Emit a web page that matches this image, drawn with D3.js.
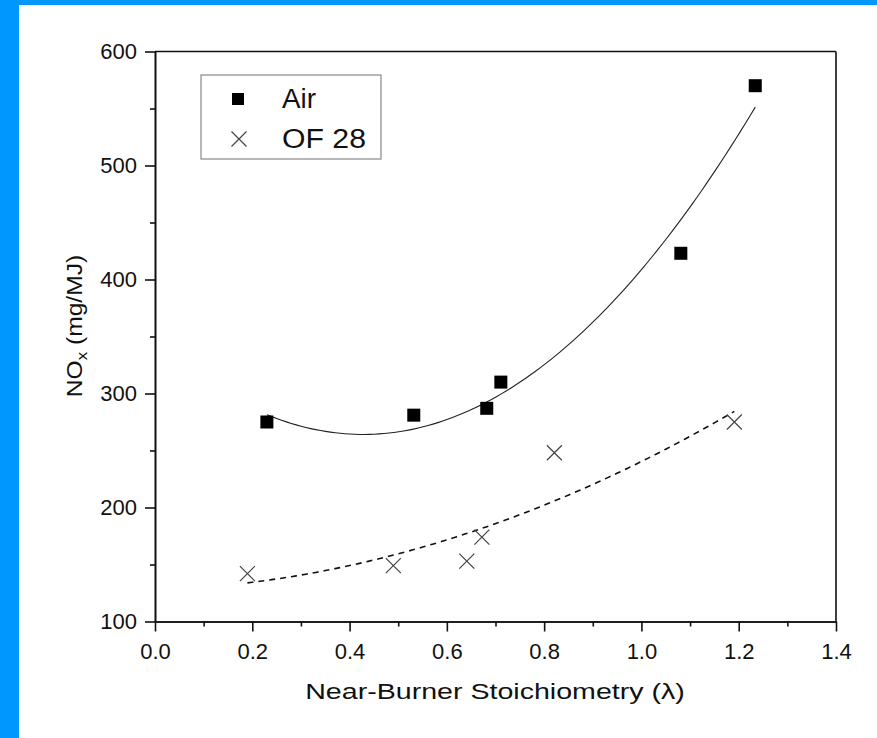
<!DOCTYPE html>
<html>
<head>
<meta charset="utf-8">
<script src="https://cdn.jsdelivr.net/npm/d3@7"></script>
<style>
  html, body { margin: 0; padding: 0; background: #0097ff; }
  svg { display: block; }
  text { font-family: Arial, "Liberation Sans", sans-serif; fill: #111; }
</style>
</head>
<body>
<script>
// NOx emissions versus near-burner stoichiometry, air vs. oxy-fuel (OF 28)
const airLambda = [0.23, 0.532, 0.682, 0.711, 1.081, 1.234];
const airNOx    = [275, 281, 287, 310, 423, 570];
const ofLambda  = [0.19, 0.49, 0.641, 0.672, 0.821, 1.191];
const ofNOx     = [142, 149, 153, 174, 248, 275];

const xTicks = [0.0, 0.2, 0.4, 0.6, 0.8, 1.0, 1.2, 1.4];
const xMinor = [0.1, 0.3, 0.5, 0.7, 0.9, 1.1, 1.3];
const yTicks = [100, 200, 300, 400, 500, 600];
const yMinor = [150, 250, 350, 450, 550];

const seriesNames = ["Air", "OF 28"];

const W = 877, H = 738;
const svg = d3.select("body").append("svg").attr("width", W).attr("height", H);

// white panel inside the blue frame
svg.append("rect").attr("x", 19).attr("y", 5).attr("width", W - 19).attr("height", H - 5).attr("fill", "#fff");

const x = d3.scaleLinear().domain([0, 1.4]).range([155, 836]);
const y = d3.scaleLinear().domain([100, 600]).range([621.5, 51.5]);

// least-squares quadratic through a series
function quadFit(xs, ys) {
  let n = xs.length, s = [0, 0, 0, 0, 0], t = [0, 0, 0];
  for (let i = 0; i < n; i++) {
    let p = 1;
    for (let k = 0; k < 5; k++) { s[k] += p; if (k < 3) t[k] += p * ys[i]; p *= xs[i]; }
  }
  const A = [[s[0], s[1], s[2], t[0]], [s[1], s[2], s[3], t[1]], [s[2], s[3], s[4], t[2]]];
  for (let c = 0; c < 3; c++) {
    for (let r = c + 1; r < 3; r++) {
      const f = A[r][c] / A[c][c];
      for (let k = c; k < 4; k++) A[r][k] -= f * A[c][k];
    }
  }
  const b = [0, 0, 0];
  for (let r = 2; r >= 0; r--) {
    let v = A[r][3];
    for (let k = r + 1; k < 3; k++) v -= A[r][k] * b[k];
    b[r] = v / A[r][r];
  }
  return v => b[0] + b[1] * v + b[2] * v * v;
}

function curvePoints(xs, ys) {
  const f = quadFit(xs, ys);
  const lo = d3.min(xs), hi = d3.max(xs);
  return d3.range(0, 101).map(i => { const v = lo + (hi - lo) * i / 100; return [v, f(v)]; });
}

const line = d3.line().x(d => x(d[0])).y(d => y(d[1]));

// fit curves
svg.append("path").attr("d", line(curvePoints(airLambda, airNOx)))
  .attr("fill", "none").attr("stroke", "#222").attr("stroke-width", 1.1);
svg.append("path").attr("d", line(curvePoints(ofLambda, ofNOx)))
  .attr("fill", "none").attr("stroke", "#111").attr("stroke-width", 1.6)
  .attr("stroke-dasharray", "6,5");

// frame: top and right
svg.append("line").attr("x1", x(0)).attr("x2", x(1.4)).attr("y1", y(600)).attr("y2", y(600))
  .attr("stroke", "#111").attr("stroke-width", 1.6);
svg.append("line").attr("x1", x(1.4)).attr("x2", x(1.4)).attr("y1", y(100)).attr("y2", y(600))
  .attr("stroke", "#111").attr("stroke-width", 1.6);

// axes
const xAxis = svg.append("g").attr("transform", `translate(0,${y(100)})`)
  .call(d3.axisBottom(x).tickValues(xTicks).tickFormat(d3.format(".1f")).tickSize(10).tickPadding(12).tickSizeOuter(0));
const xAxisMinor = svg.append("g").attr("transform", `translate(0,${y(100)})`)
  .call(d3.axisBottom(x).tickValues(xMinor).tickFormat("").tickSize(5).tickSizeOuter(0));
const yAxis = svg.append("g").attr("transform", `translate(${x(0)},0)`)
  .call(d3.axisLeft(y).tickValues(yTicks).tickFormat(d3.format("d")).tickSize(10).tickPadding(8).tickSizeOuter(0));
const yAxisMinor = svg.append("g").attr("transform", `translate(${x(0)},0)`)
  .call(d3.axisLeft(y).tickValues(yMinor).tickFormat("").tickSize(5).tickSizeOuter(0));

[xAxis, xAxisMinor, yAxis, yAxisMinor].forEach(g => {
  g.select(".domain").attr("stroke", "#111").attr("stroke-width", 1.6);
  g.selectAll(".tick line").attr("stroke", "#111").attr("stroke-width", 1.6);
  g.selectAll(".tick text").attr("font-size", 22).attr("fill", "#111")
    .attr("font-family", "Arial, 'Liberation Sans', sans-serif");
});

// markers
const sq = 13;
svg.append("g").selectAll("rect").data(airLambda.map((v, i) => [v, airNOx[i]])).join("rect")
  .attr("x", d => x(d[0]) - sq / 2).attr("y", d => y(d[1]) - sq / 2)
  .attr("width", sq).attr("height", sq).attr("fill", "#000");

const cr = 7.5;
const crossPath = (cx, cy) => `M${cx - cr},${cy - cr}L${cx + cr},${cy + cr}M${cx - cr},${cy + cr}L${cx + cr},${cy - cr}`;
svg.append("g").selectAll("path").data(ofLambda.map((v, i) => [v, ofNOx[i]])).join("path")
  .attr("d", d => crossPath(x(d[0]), y(d[1])))
  .attr("fill", "none").attr("stroke", "#444").attr("stroke-width", 1.2);

// axis titles (set slightly wide)
svg.append("text").attr("transform", "translate(495,699) scale(1.3,1)").attr("text-anchor", "middle")
  .attr("font-size", 22).text("Near-Burner Stoichiometry (\u03bb)");

const yt = svg.append("text").attr("transform", "translate(82,326) rotate(-90) scale(1.12,1)")
  .attr("text-anchor", "middle").attr("font-size", 22);
yt.append("tspan").text("NO");
yt.append("tspan").attr("font-size", 15).attr("dy", 5).text("x");
yt.append("tspan").attr("dy", -5).text(" (mg/MJ)");

// legend
const lg = svg.append("g");
lg.append("rect").attr("x", 201).attr("y", 75).attr("width", 180).attr("height", 84)
  .attr("fill", "#fff").attr("stroke", "#888").attr("stroke-width", 1.2);
lg.append("rect").attr("x", 238 - 6).attr("y", 99 - 6).attr("width", 12).attr("height", 12).attr("fill", "#000");
lg.append("path").attr("d", crossPath(239, 139)).attr("fill", "none").attr("stroke", "#444").attr("stroke-width", 1.2);
const legendWidths = [34, 84];
lg.selectAll("text").data(seriesNames).join("text")
  .attr("x", 282).attr("y", (d, i) => 108 + i * 40)
  .attr("font-size", 27)
  .attr("textLength", (d, i) => legendWidths[i]).attr("lengthAdjust", "spacingAndGlyphs")
  .text(d => d);
</script>
</body>
</html>
